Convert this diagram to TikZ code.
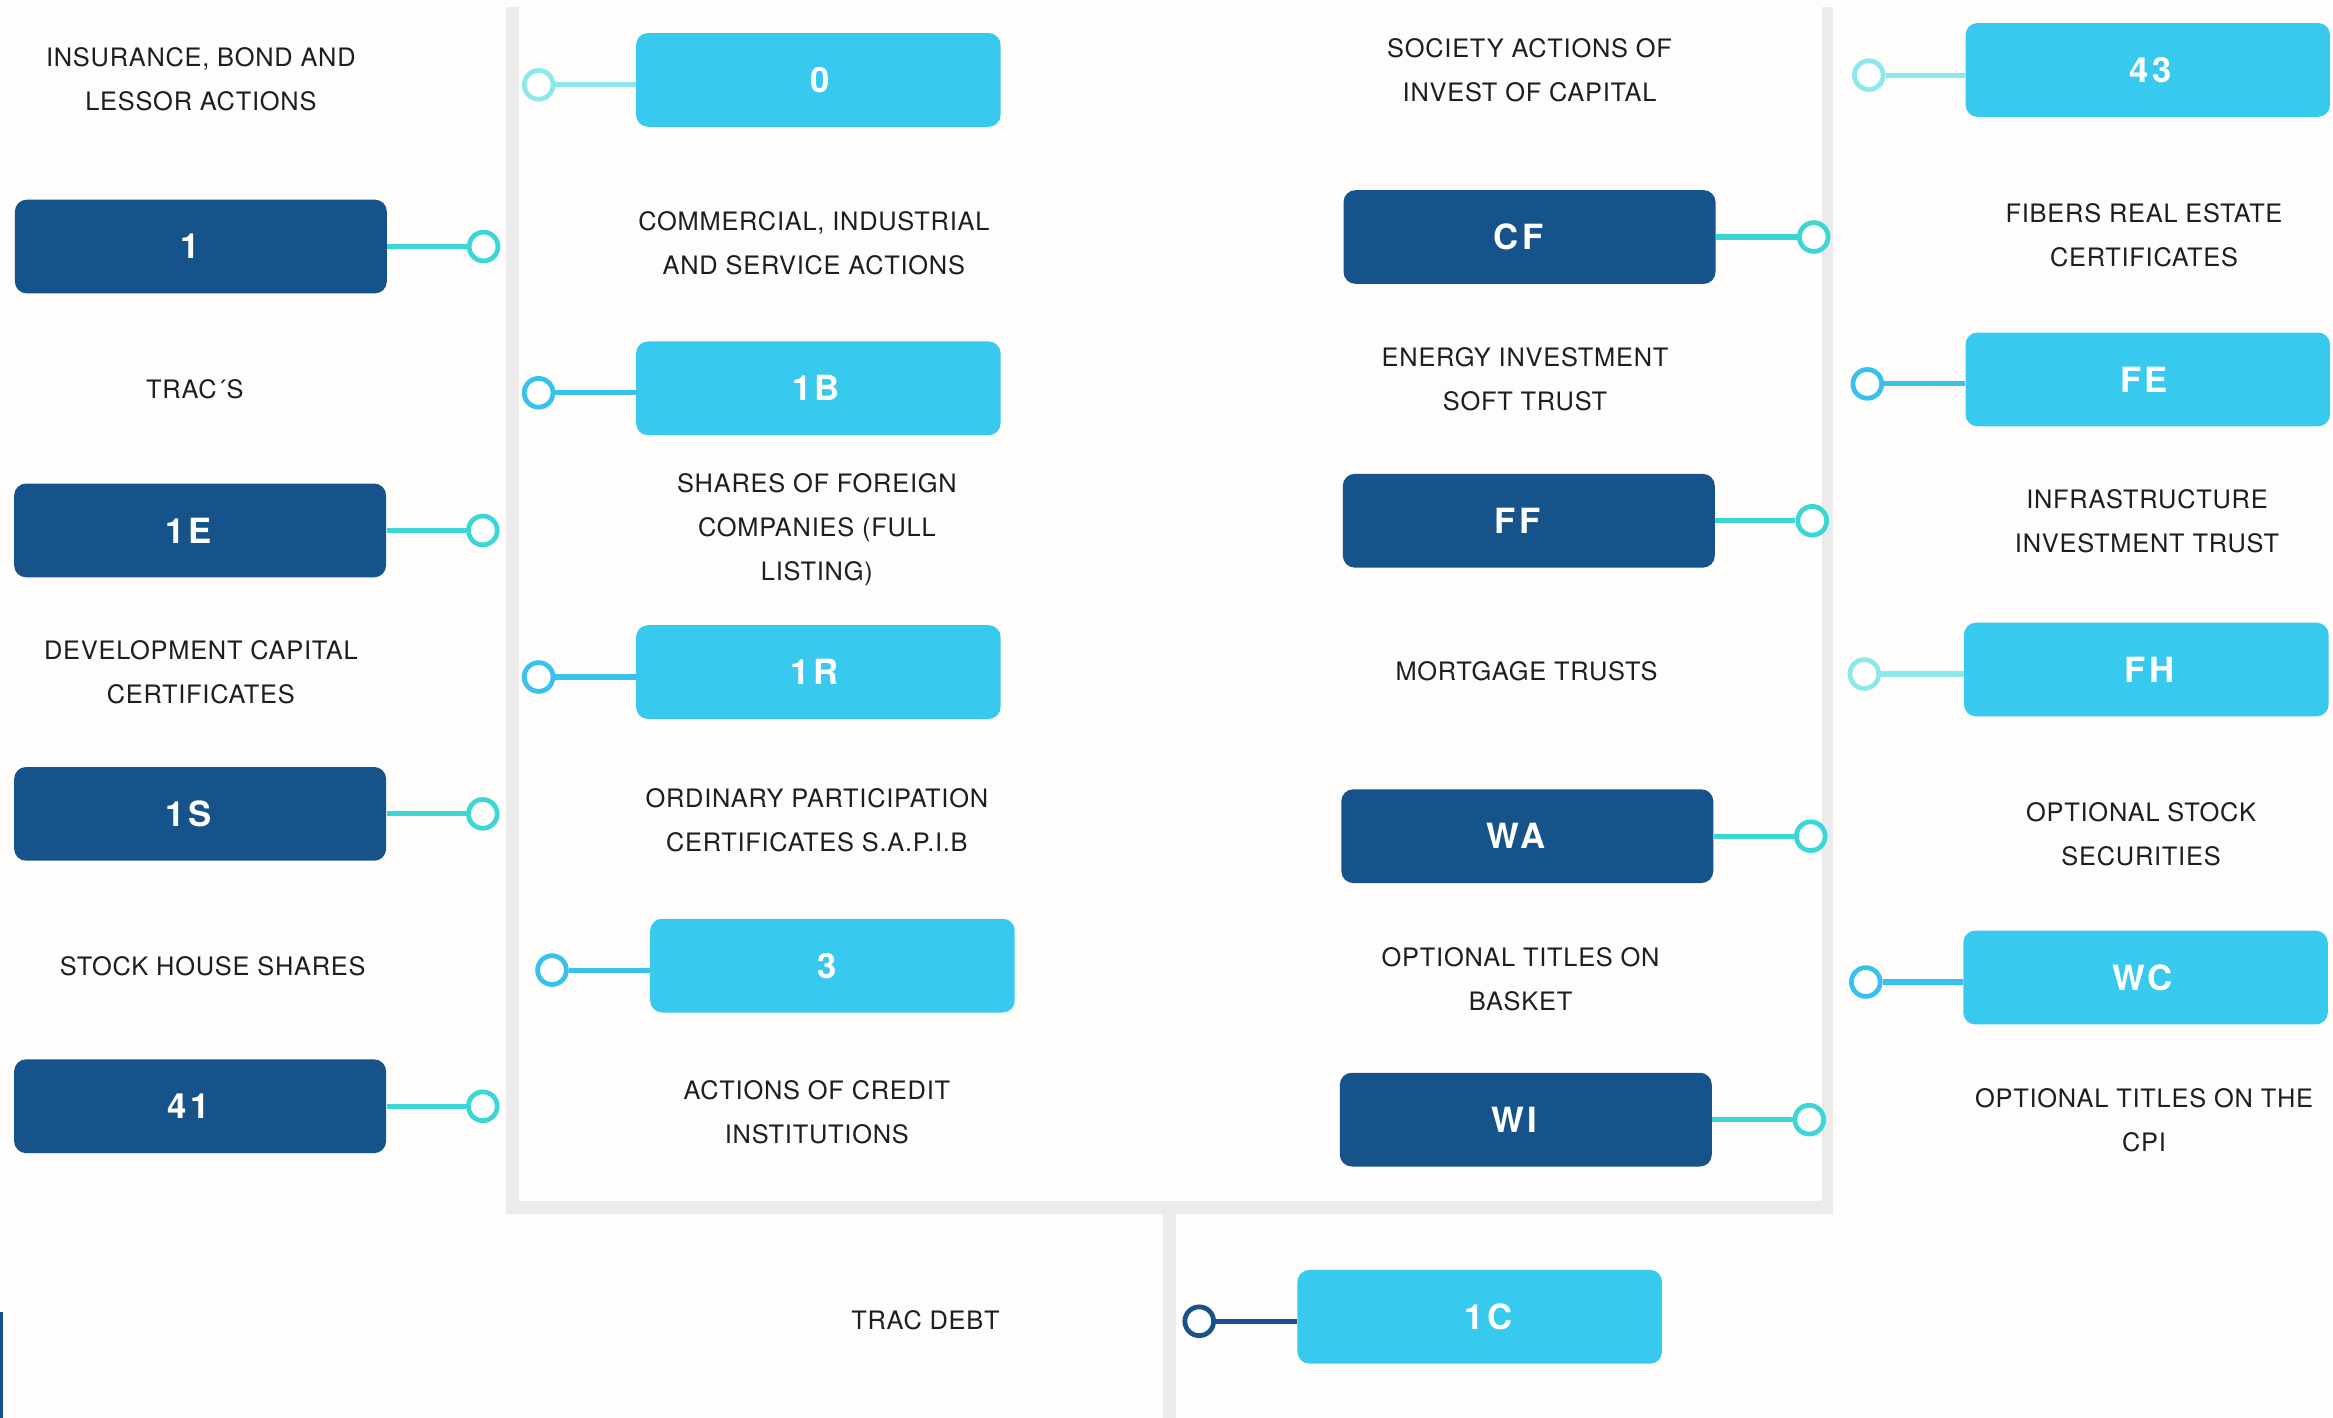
\documentclass[tikz,border=0pt]{standalone}
\usepackage{fontspec}
\setmainfont{TeX Gyre Heros}
\newfontfamily\lblfont[LetterSpace=3]{TeX Gyre Heros}
\newfontfamily\boxfont[LetterSpace=10]{TeX Gyre Heros}
\definecolor{darkb}{HTML}{16538A}
\definecolor{lightb}{HTML}{38C9EF}
\definecolor{tealc}{HTML}{3DD6D6}
\definecolor{palec}{HTML}{8DE8EB}
\definecolor{bluec}{HTML}{38C0EF}
\definecolor{grayc}{HTML}{EBEBEB}
\definecolor{bgc}{HTML}{FEFDFC}
\definecolor{txtc}{HTML}{1E1E1E}
\tikzset{
  dbox/.style={fill=darkb, rounded corners=6pt, minimum width=187.5pt, minimum height=47.25pt, inner sep=0pt, text=white, font=\boxfont\bfseries\fontsize{17.5}{19}\selectfont, tx=-11.25pt},
  lbox/.style={fill=lightb, rounded corners=6pt, minimum width=183.75pt, minimum height=47.25pt, inner sep=0pt, text=white, font=\boxfont\bfseries\fontsize{17.5}{19}\selectfont},
  tx/.style={execute at begin node={\hspace*{#1}}},
  knob/.style={circle, draw=#1, fill=white, line width=2.4pt, minimum size=14.5pt, inner sep=0pt},
  link/.style={draw=#1, line width=2.6pt},
  lbl/.style={align=center, text=txtc, font=\lblfont\fontsize{12.8}{22.2}\selectfont, inner sep=0pt},
  frame/.style={fill=grayc, draw=none}
}
\begin{document}
\begin{tikzpicture}[x=0.75pt, y=-0.75pt]
\useasboundingbox (0,0) rectangle (1568,953);
\fill[bgc] (0,0) rectangle (1568,953);
% gray frame
\fill[frame] (340.1,4.7) rectangle (348.8,816);
\fill[frame] (340.1,807.1) rectangle (1232,816);
\fill[frame] (1224.6,4.7) rectangle (1232,816);
\fill[frame] (781.6,816) rectangle (790.4,953);
\fill[darkb] (0,882) rectangle (1.8,953);

% left column (dark)
\node[dbox] (b1) at (135,165.7) {1};
\node[knob=tealc] (c1) at (325,165.7) {};
\node[dbox] (b1E) at (134.5,356.5) {1E};
\node[knob=tealc] (c1E) at (324.5,356.5) {};
\node[dbox] (b1S) at (134.5,547) {1S};
\node[knob=tealc] (c1S) at (324.5,547) {};
\node[dbox] (b41) at (134.5,743.5) {41};
\node[knob=tealc] (c41) at (324.5,743.5) {};
\draw[link=tealc] (b1) -- (c1);
\draw[link=tealc] (b1E) -- (c1E);
\draw[link=tealc] (b1S) -- (c1S);
\draw[link=tealc] (b41) -- (c41);

\node[lbl] (t1) at (135,53.5) {INSURANCE, BOND AND\\LESSOR ACTIONS};
\node[lbl] (t2) at (131,261.5) {TRAC´S};
\node[lbl] (t3) at (135,452) {DEVELOPMENT CAPITAL\\CERTIFICATES};
\node[lbl] (t4) at (143,649.5) {STOCK HOUSE SHARES};

% middle column (light)
\node[lbox, tx=2.25pt] (b0) at (550,53.7) {0};
\node[knob=palec] (c0) at (362,57) {};
\node[lbox, tx=-2.25pt] (b1B) at (550,261) {1B};
\node[knob=bluec] (c1B) at (362,264) {};
\node[lbox, tx=-3.9pt] (b1R) at (550,451.7) {1R};
\node[knob=bluec] (c1R) at (362,455) {};
\node[lbox, tx=-5.25pt] (b3) at (559.5,649) {3};
\node[knob=bluec] (c3) at (371,652) {};
\draw[link=palec] (c0) -- (c0 -| b0.west);
\draw[link=bluec] (c1B) -- (c1B -| b1B.west);
\draw[link=bluec] (c1R) -- (c1R -| b1R.west);
\draw[link=bluec] (c3) -- (c3 -| b3.west);

\node[lbl] (t5) at (547,163.5) {COMMERCIAL, INDUSTRIAL\\AND SERVICE ACTIONS};
\node[lbl] (t6) at (549,356) {SHARES OF FOREIGN\\COMPANIES (FULL\\LISTING)};
\node[lbl] (t7) at (549,551) {ORDINARY PARTICIPATION\\CERTIFICATES S.A.P.I.B};
\node[lbl] (t8) at (549,747.5) {ACTIONS OF CREDIT\\INSTITUTIONS};

% right-middle column (dark)
\node[dbox] (bCF) at (1028,159.3) {CF};
\node[knob=tealc] (cCF) at (1219,159.3) {};
\node[dbox] (bFF) at (1027.5,350) {FF};
\node[knob=tealc] (cFF) at (1218,350) {};
\node[dbox] (bWA) at (1026.5,562) {WA};
\node[knob=tealc] (cWA) at (1217,562) {};
\node[dbox] (bWI) at (1025.5,752.5) {WI};
\node[knob=tealc] (cWI) at (1216,752.5) {};
\draw[link=tealc] (bCF) -- (cCF);
\draw[link=tealc] (bFF) -- (cFF);
\draw[link=tealc] (bWA) -- (cWA);
\draw[link=tealc] (bWI) -- (cWI);

\node[lbl] (t9) at (1028,47.5) {SOCIETY ACTIONS OF\\INVEST OF CAPITAL};
\node[lbl] (t10) at (1025,255) {ENERGY INVESTMENT\\SOFT TRUST};
\node[lbl] (t11) at (1026,451) {MORTGAGE TRUSTS};
\node[lbl] (t12) at (1022,658) {OPTIONAL TITLES ON\\BASKET};

% right column (light)
\node[lbox, tx=3pt] (b43) at (1443.5,47) {43};
\node[knob=palec] (c43) at (1256,50.5) {};
\node[lbox, tx=-3.75pt] (bFE) at (1443.5,255) {FE};
\node[knob=bluec] (cFE) at (1255,258) {};
\node[lbox, tx=3pt] (bFH) at (1442.5,450) {FH};
\node[knob=palec] (cFH) at (1253,453) {};
\node[lbox, tx=-3pt] (bWC) at (1442,657) {WC};
\node[knob=bluec] (cWC) at (1254,660) {};
\draw[link=palec] (c43) -- (c43 -| b43.west);
\draw[link=bluec] (cFE) -- (cFE -| bFE.west);
\draw[link=palec] (cFH) -- (cFH -| bFH.west);
\draw[link=bluec] (cWC) -- (cWC -| bWC.west);

\node[lbl] (t13) at (1441,158) {FIBERS REAL ESTATE\\CERTIFICATES};
\node[lbl] (t14) at (1443,350) {INFRASTRUCTURE\\INVESTMENT TRUST};
\node[lbl] (t15) at (1439,561) {OPTIONAL STOCK\\SECURITIES};
\node[lbl] (t16) at (1441,753) {OPTIONAL TITLES ON THE\\CPI};

% bottom
\node[lbl] (t17) at (622,887) {TRAC DEBT};
\node[lbox, tx=9pt] (b1C) at (994.5,885) {1C};
\node[knob=darkb] (c1C) at (806,888) {};
\draw[link=darkb] (c1C) -- (c1C -| b1C.west);
\end{tikzpicture}
\end{document}
